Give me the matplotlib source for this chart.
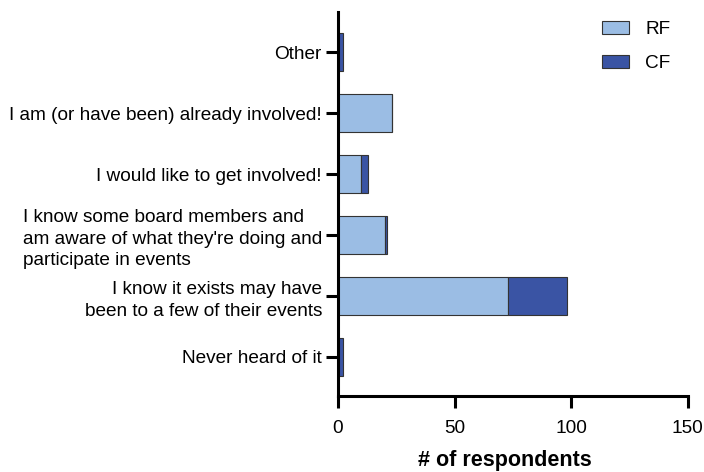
import matplotlib.pyplot as plt

plt.rcParams['font.family'] = ['Liberation Sans', 'DejaVu Sans']

categories = ["Never heard of it",
              "I know it exists may have\nbeen to a few of their events",
              "I know some board members and\nam aware of what they're doing and\nparticipate in events",
              "I would like to get involved!",
              "I am (or have been) already involved!",
              "Other"]
rf = [0, 73, 20, 10, 23, 0]
cf = [2, 25, 1, 3, 0, 2]

fig = plt.figure(figsize=(7.04, 4.72), dpi=100)
ax = fig.add_axes([0.480, 0.161, 0.497, 0.814])

pos = list(range(len(categories)))
ax.barh(pos, rf, height=0.63, color='#9bbde4', edgecolor='#333333', linewidth=0.8, label='RF')
ax.barh(pos, cf, left=rf, height=0.63, color='#3a54a4', edgecolor='#333333', linewidth=0.8, label='CF')

ax.set_xlim(0, 150)
ax.set_ylim(-0.64, 5.66)
ax.set_xticks([0, 50, 100, 150])
ax.set_yticks(pos)
ax.set_yticklabels(categories)
for lab in ax.get_yticklabels():
    if lab.get_text().startswith("I know some"):
        lab.set_multialignment('left')
    else:
        lab.set_multialignment('right')
    lab.set_linespacing(1.35)

for side in ['top', 'right']:
    ax.spines[side].set_visible(False)
for side in ['left', 'bottom']:
    ax.spines[side].set_linewidth(2.2)
ax.tick_params(axis='both', width=2.2, length=8.5, labelsize=13.7, colors='black')
ax.tick_params(axis='y', pad=3)
ax.tick_params(axis='x', pad=9)

ax.set_xlabel('# of respondents', fontsize=15.5, fontweight='bold')
ax.xaxis.set_label_coords(0.477, -0.168, transform=ax.transAxes)
ax.xaxis.label.set_verticalalignment('center')

ax.legend(loc='upper right', bbox_to_anchor=(1.0, 1.02), frameon=False, fontsize=13.7,
          handlelength=1.45, handleheight=0.65, labelspacing=0.9, handletextpad=0.85)

fig.savefig('out.png', dpi=100)
